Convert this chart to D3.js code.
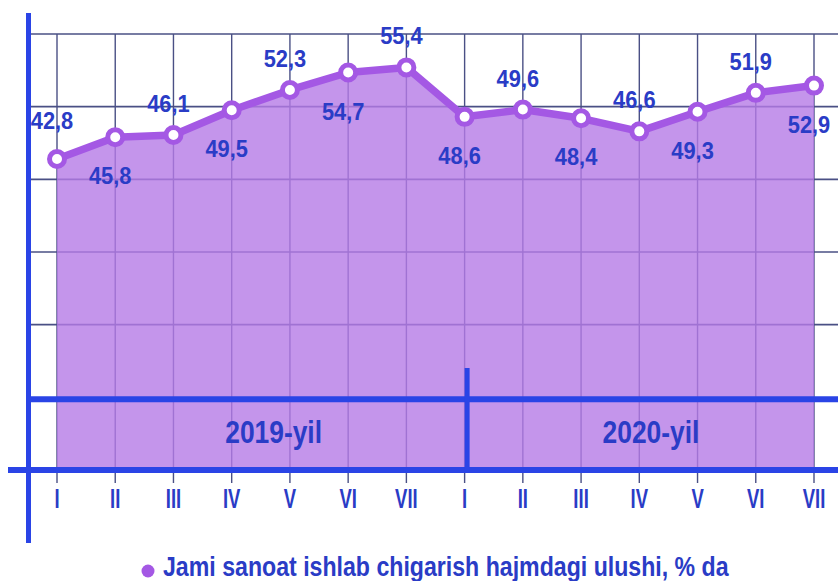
<!DOCTYPE html>
<html>
<head>
<meta charset="utf-8">
<script src="https://cdn.jsdelivr.net/npm/d3@7"></script>
<style>
  html, body { margin: 0; padding: 0; background: #fff; }
  svg { display: block; }
  text { font-family: "Liberation Sans", Arial, sans-serif; font-weight: bold; }
</style>
</head>
<body>
<div id="chart"></div>
<script>
// months, two years back to back
const months = ["I", "II", "III", "IV", "V", "VI", "VII", "I", "II", "III", "IV", "V", "VI", "VII"];
// share in total industrial output, %
const share = [42.8, 45.8, 46.1, 49.5, 52.3, 54.7, 55.4, 48.6, 49.6, 48.4, 46.6, 49.3, 51.9, 52.9];
const years = ["2019-yil", "2020-yil"];
const yearSplit = 7; // first month of 2020
const yTicks = [0, 10, 20, 30, 40, 50, 60];
const legendText = "Jami sanoat ishlab chigarish hajmdagi ulushi, % da";

const width = 838, height = 581;
const blue = "#2a44e6", textBlue = "#2a3cc6";
const purple = "#a458e4", fillCol = "#b57ae6", gridCol = "#4a5085";

const svg = d3.select("#chart").append("svg")
  .attr("width", width).attr("height", height);

/*----- scales -----*/
const x = d3.scaleLinear().domain([0, months.length - 1]).range([57, 814]);
const y = d3.scaleLinear().domain([0, 60]).range([470, 34]);

const fmt = v => v.toFixed(1).replace(".", ",");

/*----- grid -----*/
const grid = svg.append("g");
grid.selectAll("line.h").data(yTicks.filter(t => t > 10))
  .enter().append("line")
  .attr("x1", 31).attr("x2", width)
  .attr("y1", d => y(d)).attr("y2", d => y(d))
  .attr("stroke", gridCol).attr("stroke-width", 1.6);

grid.selectAll("line.v").data(months)
  .enter().append("line")
  .attr("x1", (d, i) => x(i)).attr("x2", (d, i) => x(i))
  .attr("y1", y(60)).attr("y2", y(0) + 13)
  .attr("stroke", gridCol).attr("stroke-width", 1.4);

/*----- area -----*/
const area = d3.area()
  .x((d, i) => x(i))
  .y0(y(0))
  .y1(d => y(d));

svg.append("path")
  .datum(share)
  .attr("d", area)
  .attr("fill", fillCol)
  .attr("fill-opacity", 0.8);

/*----- heavy blue frame lines -----*/
const frame = svg.append("g").attr("stroke", blue);
frame.append("line") // band line
  .attr("x1", 28).attr("x2", width)
  .attr("y1", y(10) + 2).attr("y2", y(10) + 2)
  .attr("stroke-width", 6);
frame.append("line") // x axis
  .attr("x1", 8).attr("x2", width)
  .attr("y1", y(0)).attr("y2", y(0))
  .attr("stroke-width", 6);
frame.append("line") // y axis
  .attr("x1", 28.5).attr("x2", 28.5)
  .attr("y1", 13).attr("y2", 543)
  .attr("stroke-width", 5);
frame.append("line") // year divider
  .attr("x1", x(yearSplit) + 2.5).attr("x2", x(yearSplit) + 2.5)
  .attr("y1", 368).attr("y2", y(0))
  .attr("stroke-width", 5);

/*----- year labels -----*/
const yearPos = [3.72, 10.2];
svg.selectAll("text.year").data(years)
  .enter().append("text")
  .attr("class", "year")
  .attr("transform", (d, i) => "translate(" + x(yearPos[i]) + "," + (y(0) - 27) + ") scale(0.88,1.05)")
  .attr("text-anchor", "middle")
  .attr("font-size", 30)
  .attr("fill", textBlue)
  .text(d => d);

/*----- month labels -----*/
svg.selectAll("text.month").data(months)
  .enter().append("text")
  .attr("class", "month")
  .attr("transform", (d, i) => "translate(" + x(i) + ",508) scale(0.66,1)")
  .attr("text-anchor", "middle")
  .attr("font-size", 28)
  .attr("fill", textBlue)
  .text(d => d);

/*----- line and markers -----*/
const line = d3.line().x((d, i) => x(i)).y(d => y(d));

svg.append("path")
  .datum(share)
  .attr("d", line)
  .attr("fill", "none")
  .attr("stroke", purple)
  .attr("stroke-width", 7.5)
  .attr("stroke-linejoin", "round");

svg.selectAll("circle.pt").data(share)
  .enter().append("circle")
  .attr("cx", (d, i) => x(i))
  .attr("cy", d => y(d))
  .attr("r", 7.5)
  .attr("fill", "#fff")
  .attr("stroke", purple)
  .attr("stroke-width", 5);

/*----- value labels, alternating above / below -----*/
svg.selectAll("text.val").data(share)
  .enter().append("text")
  .attr("transform", (d, i) => "translate(" + (x(i) - 5) + "," +
    (y(d) + (i % 2 === 0 ? (i === 0 ? -30 : -23) : 47)) + ") scale(0.95,1.08)")
  .attr("text-anchor", "middle")
  .attr("font-size", 23)
  .attr("fill", textBlue)
  .text(d => fmt(d));

/*----- legend -----*/
const legend = svg.append("g").attr("transform", "translate(148,572)");
legend.append("circle").attr("r", 6.5).attr("cy", -1).attr("fill", purple);
legend.append("text")
  .attr("transform", "translate(15,4) scale(0.89,1.05)")
  .attr("font-size", 26)
  .attr("fill", textBlue)
  .text(legendText);
</script>
</body>
</html>
